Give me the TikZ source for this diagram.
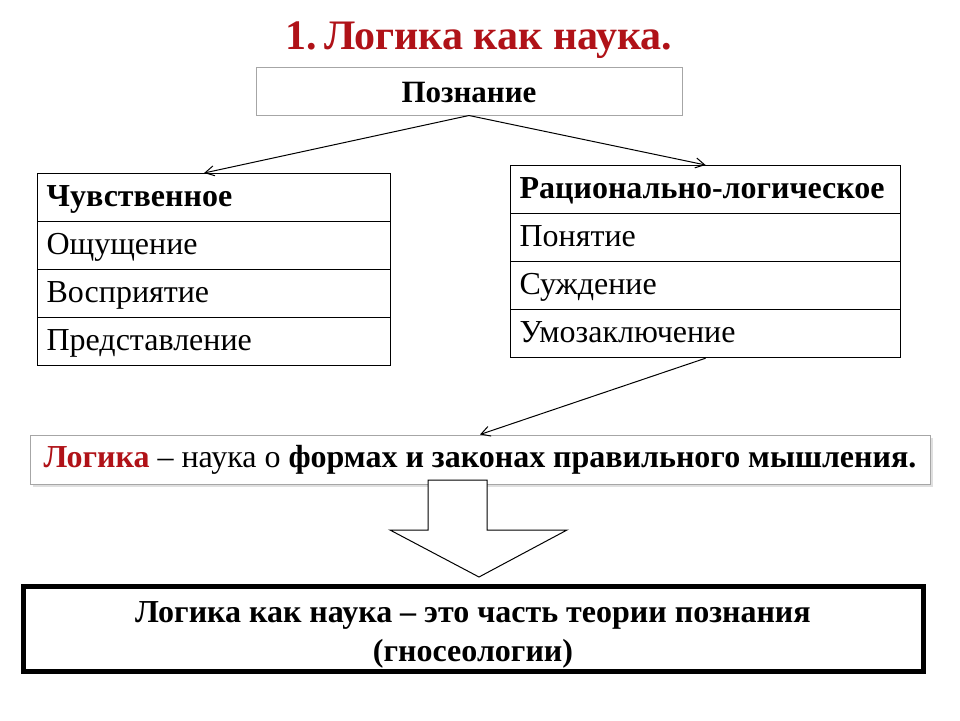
\documentclass[tikz,border=0pt]{standalone}
\usepackage{fontspec}
\setmainfont{Liberation Serif}
\usetikzlibrary{arrows.meta,calc}
\definecolor{tred}{RGB}{176,18,24}
\tikzset{
  cell/.style={draw=black, line width=1.2pt, rectangle, anchor=north west, minimum height=48pt, inner xsep=9pt, align=left, text height=23pt, text depth=5pt, font=\fontsize{32}{36}\selectfont},
  conn/.style={line width=1pt, -{Straight Barb[length=9pt,width=10pt]}},
}
\begin{document}
\begin{tikzpicture}[x=1pt,y=-1pt]
\useasboundingbox[fill=white] (0,0) rectangle (960,720);
\node[font=\fontsize{42}{46}\selectfont\bfseries, text=tred] (title) at (479,40) {1.\,Логика как наука.};
\node[draw=gray!70, line width=1pt, minimum width=426pt, minimum height=48pt, text height=24pt, text depth=2pt] (pozn) at (469,91) {\fontsize{31}{34}\selectfont\bfseries Познание};
% left table
\node[cell, text width=335pt] (l1) at (37,173) {\bfseries Чувственное};
\node[cell, text width=335pt] (l2) at (37,221) {Ощущение};
\node[cell, text width=335pt] (l3) at (37,269) {Восприятие};
\node[cell, text width=335pt] (l4) at (37,317) {Представление};
% right table
\node[cell, text width=372pt] (r1) at (510,165) {\bfseries Рационально-логическое};
\node[cell, text width=372pt] (r2) at (510,213) {Понятие};
\node[cell, text width=372pt] (r3) at (510,261) {Суждение};
\node[cell, text width=372pt] (r4) at (510,309) {Умозаключение};
% definition box
\fill[gray!25] (33,438) rectangle (933,487);
\node[draw=gray!70, fill=white, line width=1pt, minimum width=900pt, minimum height=49pt, font=\fontsize{32}{36}\selectfont] (logic) at (480,459.5) {\textcolor{tred}{\bfseries Логика} – наука о \textbf{формах и законах правильного мышления.}};
% block arrow
\draw[line width=1pt, fill=white] (428,480) -- (487,480) -- (487,530) -- (567,530) -- (479,577) -- (390,530) -- (428,530) -- cycle;
% bottom box
\node[draw=black, line width=5pt, minimum width=900pt, minimum height=85pt] (part) at (473,628.5) {};
\node[align=center, font=\fontsize{32}{39}\selectfont\bfseries] (parttext) at ($(part.center)+(0,6)$) {Логика как наука – это часть теории познания\\(гносеологии)};
% connectors
\draw[conn] (pozn.south) -- ($(l1.north)+(-10,0)$);
\draw[conn] (pozn.south) -- (r1.north);
\draw[conn] (r4.south) -- (logic.north);
\end{tikzpicture}
\end{document}
